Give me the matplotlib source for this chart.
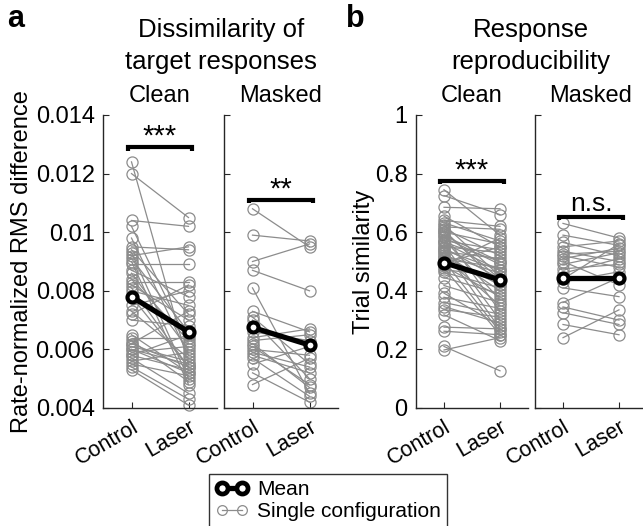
import matplotlib
matplotlib.use("Agg")
import matplotlib.pyplot as plt
import matplotlib.transforms as mtrans
from matplotlib.lines import Line2D

plt.rcParams['font.family'] = ['Liberation Sans', 'DejaVu Sans']

# ---------------- data ----------------
conditions = ["Control", "Laser"]

a_clean_control = [0.0124, 0.0120, 0.0104, 0.0102, 0.0098, 0.0095, 0.0094, 0.0093, 0.0092, 0.0091,
                   0.0090, 0.0089, 0.0086, 0.0083, 0.0082, 0.0081, 0.0080, 0.0078, 0.0075, 0.0073,
                   0.0072, 0.0070, 0.0065, 0.0064, 0.0063, 0.0062, 0.0061, 0.0060, 0.0059, 0.0058,
                   0.0057, 0.0056, 0.0055, 0.0054, 0.0053, 0.0058, 0.0060, 0.0062, 0.0087, 0.0084]
a_clean_laser = [0.0055, 0.0105, 0.0102, 0.0062, 0.0058, 0.0094, 0.0072, 0.0050, 0.0095, 0.0066,
                 0.0048, 0.0089, 0.0060, 0.0083, 0.0070, 0.0054, 0.0075, 0.0054, 0.0080, 0.0057,
                 0.0082, 0.0068, 0.0052, 0.0064, 0.0049, 0.0073, 0.0056, 0.0055, 0.0061, 0.0053,
                 0.0045, 0.0059, 0.0051, 0.0043, 0.0041, 0.0065, 0.0052, 0.0054, 0.0078, 0.0063]
a_clean_mean = [0.0078, 0.0066]

a_masked_control = [0.0108, 0.0099, 0.0090, 0.0087, 0.0081, 0.0073, 0.0071, 0.0070, 0.0066, 0.0064,
                    0.0061, 0.0060, 0.0058, 0.0057, 0.0055, 0.0052, 0.0048, 0.0063, 0.0062, 0.0059]
a_masked_laser = [0.0095, 0.0097, 0.0096, 0.0080, 0.0045, 0.0066, 0.0055, 0.0050, 0.0063, 0.0067,
                  0.0048, 0.0058, 0.0052, 0.0044, 0.0061, 0.0042, 0.0057, 0.0065, 0.0047, 0.0054]
a_masked_mean = [0.00675, 0.00615]

b_clean_control = [0.745, 0.725, 0.685, 0.655, 0.64, 0.632, 0.626, 0.618, 0.612, 0.607,
                   0.60, 0.593, 0.588, 0.582, 0.575, 0.571, 0.563, 0.558, 0.551, 0.547,
                   0.54, 0.533, 0.528, 0.521, 0.514, 0.508, 0.502, 0.497, 0.489, 0.484,
                   0.478, 0.472, 0.463, 0.445, 0.418, 0.392, 0.378, 0.36, 0.346, 0.336,
                   0.318, 0.276, 0.262, 0.21, 0.198, 0.566, 0.539, 0.516, 0.494, 0.60]
b_clean_laser = [0.59, 0.66, 0.68, 0.55, 0.62, 0.57, 0.45, 0.61, 0.52, 0.42,
                 0.56, 0.33, 0.50, 0.49, 0.37, 0.54, 0.47, 0.30, 0.53, 0.44,
                 0.27, 0.51, 0.40, 0.46, 0.35, 0.48, 0.26, 0.43, 0.58, 0.38,
                 0.25, 0.45, 0.41, 0.39, 0.36, 0.28, 0.34, 0.32, 0.29, 0.31,
                 0.23, 0.27, 0.25, 0.127, 0.24, 0.50, 0.47, 0.42, 0.55, 0.44]
b_clean_mean = [0.496, 0.437]

b_masked_control = [0.63, 0.59, 0.565, 0.55, 0.535, 0.525, 0.51, 0.50, 0.49, 0.475,
                    0.46, 0.43, 0.41, 0.36, 0.345, 0.325, 0.285, 0.24, 0.52, 0.44]
b_masked_laser = [0.58, 0.555, 0.52, 0.57, 0.50, 0.535, 0.545, 0.42, 0.53, 0.49,
                  0.51, 0.465, 0.38, 0.445, 0.30, 0.285, 0.25, 0.335, 0.48, 0.56]
b_masked_mean = [0.445, 0.445]

a_yticks = [0.004, 0.006, 0.008, 0.01, 0.012, 0.014]
a_yticklabels = ["0.004", "0.006", "0.008", "0.01", "0.012", "0.014"]
b_yticks = [0, 0.2, 0.4, 0.6, 0.8, 1]
b_yticklabels = ["0", "0.2", "0.4", "0.6", "0.8", "1"]

sig_a = ["***", "**"]
sig_a_height = [0.0129, 0.0111]
sig_b = ["***", "n.s."]
sig_b_height = [0.776, 0.652]

# ---------------- style ----------------
W, H = 643, 526
GRAY = '#8c8c8c'
AX = '#262626'
FS = 17

fig = plt.figure(figsize=(W / 100, H / 100), dpi=100)


def ax_at(x0, x1, y0, y1):
    return fig.add_axes([x0 / W, 1 - y1 / H, (x1 - x0) / W, (y1 - y0) / H])


def draw_panel(ax, ctrl, laser, mean, ylim, yticks, yticklabels, show_labels, title, sig, sig_h):
    xs = [1, 2]
    for c, l in zip(ctrl, laser):
        ax.plot(xs, [c, l], color=GRAY, lw=0.9, marker='o', ms=8, mfc='none',
                mec=GRAY, mew=0.9, zorder=2, clip_on=False)
    ax.plot(xs, mean, color='black', lw=3.8, marker='o', ms=7.2, mfc='white',
            mec='black', mew=3.0, zorder=4, clip_on=False)
    ax.set_xlim(0.5, 2.5)
    ax.set_ylim(*ylim)
    ax.set_yticks(yticks)
    if show_labels:
        ax.set_yticklabels(yticklabels, fontsize=FS)
    else:
        ax.set_yticklabels([])
    ax.set_xticks(xs)
    ax.set_xticklabels(conditions, rotation=30, ha='right', rotation_mode='anchor', fontsize=FS - 1.5)
    off = mtrans.ScaledTranslation(6 / 100, -8 / 100, fig.dpi_scale_trans)
    for lab in ax.get_xticklabels():
        lab.set_transform(lab.get_transform() + off)
    for s in ['top', 'right']:
        ax.spines[s].set_visible(False)
    for s in ['left', 'bottom']:
        ax.spines[s].set_color(AX)
        ax.spines[s].set_linewidth(1.0)
    ax.tick_params(direction='in', length=4, color=AX, labelcolor='black', pad=6)
    ax.set_title(title, fontsize=FS, pad=9)
    rng = ylim[1] - ylim[0]
    d = 0.012 * rng
    ax.plot([0.93, 0.93, 2.07, 2.07], [sig_h - d, sig_h, sig_h, sig_h - d], color='black',
            lw=3, solid_capstyle='butt', solid_joinstyle='miter', zorder=5, clip_on=False)
    if '*' in sig:
        ax.text(1.5, sig_h - 0.012 * rng, sig, ha='center', va='bottom', fontsize=FS + 4)
    else:
        ax.text(1.5, sig_h + 0.002 * rng, sig, ha='center', va='bottom', fontsize=FS + 2)


ax1 = ax_at(103, 217, 115, 408)
ax2 = ax_at(224, 338, 115, 408)
ax3 = ax_at(416, 528, 115, 408)
ax4 = ax_at(535, 647, 115, 408)

draw_panel(ax1, a_clean_control, a_clean_laser, a_clean_mean, (0.004, 0.014),
           a_yticks, a_yticklabels, True, "Clean", sig_a[0], sig_a_height[0])
draw_panel(ax2, a_masked_control, a_masked_laser, a_masked_mean, (0.004, 0.014),
           a_yticks, a_yticklabels, False, "Masked", sig_a[1], sig_a_height[1])
draw_panel(ax3, b_clean_control, b_clean_laser, b_clean_mean, (0, 1),
           b_yticks, b_yticklabels, True, "Clean", sig_b[0], sig_b_height[0])
draw_panel(ax4, b_masked_control, b_masked_laser, b_masked_mean, (0, 1),
           b_yticks, b_yticklabels, False, "Masked", sig_b[1], sig_b_height[1])

ax1.set_ylabel("Rate-normalized RMS difference", fontsize=FS, labelpad=2)
ax3.set_ylabel("Trial similarity", fontsize=FS, labelpad=0)

fig.text(221 / W, 1 - 30 / H, "Dissimilarity of", ha='center', va='center', fontsize=FS + 1.5)
fig.text(221 / W, 1 - 62 / H, "target responses", ha='center', va='center', fontsize=FS + 1.5)
fig.text(531 / W, 1 - 30 / H, "Response", ha='center', va='center', fontsize=FS + 1.5)
fig.text(531 / W, 1 - 62 / H, "reproducibility", ha='center', va='center', fontsize=FS + 1.5)
fig.text(16 / W, 1 - 19 / H, "a", ha='center', va='center', fontsize=FS + 5, fontweight='bold')
fig.text(355 / W, 1 - 19 / H, "b", ha='center', va='center', fontsize=FS + 5, fontweight='bold')

h_mean = Line2D([], [], color='black', lw=3.8, marker='o', ms=8, mfc='white', mec='black', mew=3.4)
h_single = Line2D([], [], color=GRAY, lw=0.9, marker='o', ms=7, mfc='none', mec=GRAY, mew=0.9)
leg = fig.legend([h_mean, h_single], ["Mean", "Single configuration"], loc='upper left',
                 bbox_to_anchor=(209 / W, 1 - 474 / H), fontsize=FS - 2, frameon=True,
                 fancybox=False, edgecolor='black', numpoints=2, handlelength=1.6,
                 handletextpad=0.4, borderpad=0.3, labelspacing=0.15, borderaxespad=0)
leg.get_frame().set_linewidth(1.0)

fig.savefig("out.png", dpi=100)
